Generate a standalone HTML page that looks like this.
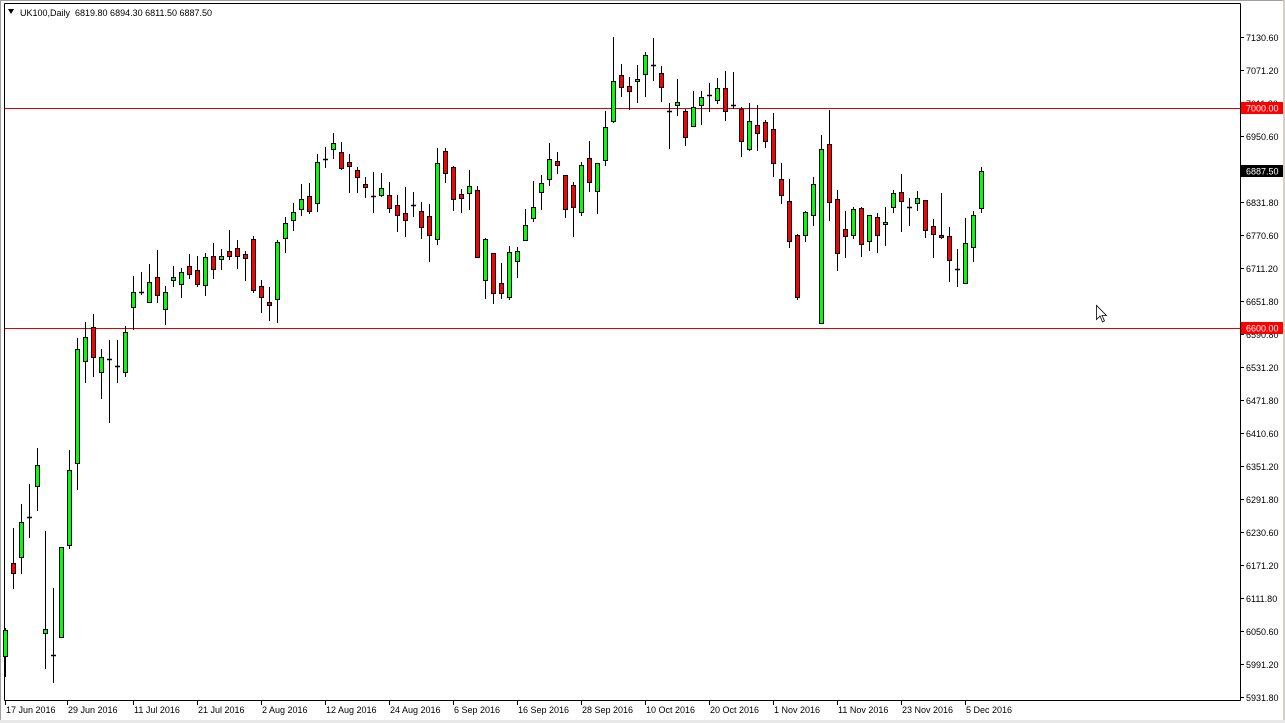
<!DOCTYPE html>
<html><head><meta charset="utf-8">
<style>
html,body{margin:0;padding:0;background:#fff;}
body{width:1285px;height:723px;overflow:hidden;}
svg{display:block;font-family:"Liberation Sans",Arial,sans-serif;font-size:9px;}
</style></head>
<body>
<svg id="c" width="1285" height="723" viewBox="0 0 1285 723" xmlns="http://www.w3.org/2000/svg">
<rect x="0" y="0" width="1285" height="723" fill="#fff"/>
<rect x="0.5" y="0.5" width="1283" height="721" fill="none" stroke="#a0a0a0"/>
<rect x="1283" y="0" width="2" height="723" fill="#d4d0c8"/>
<rect x="0" y="720" width="1285" height="3" fill="#e8e8e8"/>
<line x1="4.5" y1="3.5" x2="1240.5" y2="3.5" stroke="#000"/>
<line x1="4.5" y1="3.5" x2="4.5" y2="700.5" stroke="#000"/>
<line x1="1240.5" y1="3.5" x2="1240.5" y2="700.5" stroke="#000"/>
<line x1="4.5" y1="700.5" x2="1240.5" y2="700.5" stroke="#000"/>
<line x1="5" y1="108.5" x2="1240" y2="108.5" stroke="#e00000"/>
<line x1="5" y1="328.5" x2="1240" y2="328.5" stroke="#e00000"/>
<polygon points="8,9 14,9 11,14" fill="#000"/>
<text x="20" y="16" fill="#000" xml:space="preserve">UK100,Daily  6819.80 6894.30 6811.50 6887.50</text>
<g id="g"></g>
<polygon points="1096.5,305.5 1096.5,319.5 1100,316 1102.5,322 1104.5,321 1102,315.5 1106.5,315.5 Z" fill="#fff" stroke="#000" stroke-width="0.8"/>
</svg>
<script>
var d=[
[656,628,677,630],[563,528,589,573],[557,504,574,522],[517,484,538,517],[486,448,511,465],
[633,531,669,629],[655,588,683,655],[637,547,637,547],[545,450,549,470],[463,338,490,349],
[361,322,383,337],[327,314,377,357],[372,349,399,357],[359,340,423,359],[366,340,383,366],
[372,326,377,332],[307,276,330,292],[292,272,295,292],[302,264,303,282],[277,250,303,295],
[309,286,325,292],[280,266,287,277],[284,268,298,272],[266,254,279,274],[270,256,287,284],
[285,253,296,257],[256,243,279,269],[259,249,270,256],[251,230,260,256],[248,240,269,256],
[254,251,281,258],[239,236,293,290],[286,280,313,297],[302,287,321,305],[299,240,323,242],
[238,217,253,223],[220,203,231,212],[209,184,216,199],[196,183,214,211],[203,154,212,162],
[159,147,168,159],[149,133,159,143],[152,142,170,168],[162,154,193,166],[170,167,193,177],
[184,177,198,187],[196,172,213,196],[195,173,197,188],[195,182,213,208],[205,195,232,215],
[213,187,237,220],[205,192,217,205],[211,202,239,227],[216,204,262,235],[239,148,245,163],
[151,148,183,173],[167,166,211,199],[194,189,213,198],[193,170,210,186],[190,186,257,257],
[280,238,299,239],[253,253,304,293],[283,263,299,293],[297,246,300,252],[261,247,278,251],
[240,209,240,225],[218,181,222,207],[192,175,210,183],[179,143,186,159],[161,152,174,165],
[175,175,218,209],[185,182,237,207],[212,162,216,165],[158,141,192,182],[191,163,214,163],
[160,111,166,127],[121,37,123,81],[75,64,97,87],[86,77,110,91],[81,65,103,79],
[74,52,97,55],[65,38,81,65],[73,66,102,87],[111,103,149,111],[105,79,116,102],
[111,109,146,137],[126,91,126,107],[105,91,125,97],[95,83,112,95],[100,78,104,88],
[88,71,121,111],[105,72,109,105],[109,107,157,141],[149,103,151,121],[125,105,151,133],
[122,120,148,141],[129,113,177,163],[179,163,204,195],[201,179,248,241],[235,234,300,297],
[235,211,242,212],[215,177,226,184],[323,135,324,149],[144,110,221,202],[199,190,271,253],
[229,211,258,236],[235,207,239,209],[208,207,257,244],[241,215,251,215],[217,213,253,235],
[224,207,246,222],[207,190,213,193],[192,174,232,201],[207,198,226,207],[203,191,211,198],
[200,200,238,230],[226,219,258,234],[235,193,239,237],[236,227,282,260],[269,249,287,269],
[283,218,283,243],[247,211,262,215],[208,167,213,171]
];
var g=document.getElementById('g'),s='';
for(var i=0;i<d.length;i++){
 var x=5+8*i,o=d[i][0],h=d[i][1],l=d[i][2],c=d[i][3];
 s+='<line x1="'+(x+0.5)+'" x2="'+(x+0.5)+'" y1="'+h+'" y2="'+l+'" stroke="#000"/>';
 if(o==c){s+='<line x1="'+(x-2)+'" x2="'+(x+3)+'" y1="'+(o+0.5)+'" y2="'+(o+0.5)+'" stroke="#000" stroke-width="1.5"/>';}
 else{var t=Math.min(o,c),b=Math.max(o,c);
 s+='<rect x="'+(x-1.5)+'" y="'+(t+0.5)+'" width="4" height="'+(b-t)+'" fill="'+(c<o?'#00ff00':'#ff0000')+'" stroke="#000"/>';}
}
var p=[["7130.60",37],["7071.20",70],["7011.80",103],["6950.60",136],["6831.80",202],["6770.60",235],["6711.20",268],["6651.80",301],["6590.80",334],["6531.20",367],["6471.80",400],["6410.60",433],["6351.20",466],["6291.80",499],["6230.60",532],["6171.20",565],["6111.80",598],["6050.60",631],["5991.20",664],["5931.80",697]];
for(var j=0;j<p.length;j++){
 s+='<line x1="1240" x2="1244" y1="'+(p[j][1]+0.5)+'" y2="'+(p[j][1]+0.5)+'" stroke="#000"/>';
 s+='<text x="1246" y="'+(p[j][1]+4)+'" fill="#000">'+p[j][0]+'</text>';
}
s+='<rect x="1241" y="102" width="42" height="12" fill="#ff0000"/><text x="1246" y="111.5" fill="#fff">7000.00</text>';
s+='<rect x="1241" y="322" width="42" height="12" fill="#ff0000"/><text x="1246" y="331.5" fill="#fff">6600.00</text>';
s+='<rect x="1241" y="165" width="42" height="12" fill="#000"/><text x="1246" y="174.5" fill="#fff">6887.50</text>';
var dl=[["17 Jun 2016",5],["29 Jun 2016",67],["11 Jul 2016",133],["21 Jul 2016",197],["2 Aug 2016",261],["12 Aug 2016",325],["24 Aug 2016",389],["6 Sep 2016",453],["16 Sep 2016",517],["28 Sep 2016",581],["10 Oct 2016",645],["20 Oct 2016",709],["1 Nov 2016",773],["11 Nov 2016",837],["23 Nov 2016",901],["5 Dec 2016",965]];
for(var k=0;k<dl.length;k++){
 s+='<line x1="'+(dl[k][1]+0.5)+'" x2="'+(dl[k][1]+0.5)+'" y1="700" y2="705" stroke="#000"/>';
 s+='<text x="'+(dl[k][1]+1)+'" y="713" fill="#000">'+dl[k][0]+'</text>';
}
g.innerHTML=s;
</script>
</body></html>
